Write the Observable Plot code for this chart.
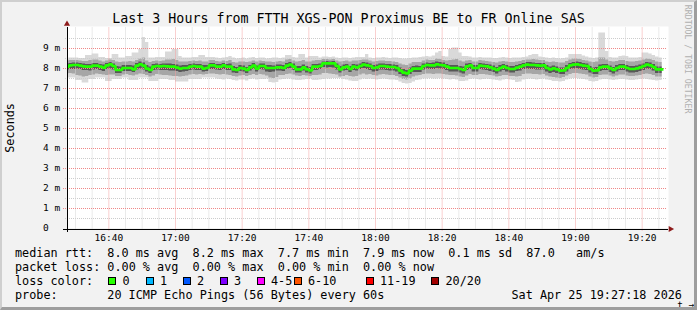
<!DOCTYPE html>
<html><head><meta charset="utf-8">
<script src="https://cdn.jsdelivr.net/npm/d3@7"></script>
<script src="https://cdn.jsdelivr.net/npm/@observablehq/plot@0.6"></script>
<style>
html,body{margin:0;padding:0;background:#f2f2f2;}
#wrap{position:relative;width:697px;height:310px;overflow:hidden;background:#f2f2f2;font-family:"DejaVu Sans Mono",monospace;color:#000;}
#wrap svg{position:absolute;left:0;top:0;}
.t{position:absolute;white-space:pre;line-height:1;}
.box{position:absolute;width:6px;height:6px;border:1px solid #000;}
#shade{position:absolute;left:0;top:0;width:697px;height:310px;box-sizing:border-box;border-top:2px solid #cfcfcf;border-left:2px solid #cfcfcf;border-right:3px solid #9e9e9e;border-bottom:3px solid #9e9e9e;pointer-events:none;}
</style></head>
<body><div id="wrap"></div>
<script>
// ---- data (milliseconds), one value per minute starting 16:27 ----
const firstMinute = 27; // minutes after 16:00
const median = [
8.05,8.13,8.15,8.15,8.12,8.08,8.07,8.07,8.12,8.12,8.07,8.02,8.13,8.18,8.1,7.9,7.9,8.0,8.0,8.0,7.93,8.12,8.18,8.12,7.97,7.9,8.07,8.1,8.08,8.1,8.08,8.07,8.07,8.02,7.97,8.0,8.0,8.07,8.1,8.07,8.07,7.97,8.0,8.13,8.13,
8.07,8.07,8.13,8.07,8.07,7.93,7.9,8.0,7.97,7.9,8.03,8.12,7.97,8.1,8.1,8.0,8.0,8.0,8.03,8.03,8.0,8.12,8.17,8.07,7.93,7.93,8.03,7.93,7.88,8.07,8.07,8.1,8.23,8.23,8.23,8.23,8.1,7.93,8.03,8.07,7.95,8.07,8.03,8.1,8.17,
8.13,8.1,8.0,8.03,8.1,8.1,8.07,8.05,8.05,8.0,7.87,7.77,7.73,7.87,7.97,7.97,7.97,8.1,8.15,8.13,8.13,8.18,8.15,8.13,8.07,8.0,8.0,8.0,7.95,7.9,8.08,8.13,8.0,8.0,8.12,8.1,8.08,8.03,7.97,7.9,8.0,8.07,8.0,7.95,7.95,
8.02,8.07,8.13,8.17,8.15,8.15,8.13,8.12,8.13,8.0,7.93,7.98,7.93,7.87,7.88,8.0,8.13,8.17,8.18,8.15,8.12,8.1,7.95,7.87,7.88,8.03,8.07,8.07,7.98,7.9,8.0,8.07,8.07,8.0,7.95,7.95,7.98,8.03,8.1,8.17,8.13,8.05,7.93,7.93];
const pingMax = [
8.42,8.5,8.5,8.5,8.47,8.47,8.63,8.63,8.7,8.7,8.53,8.53,8.47,8.47,8.67,8.67,8.5,8.5,8.58,8.58,8.75,8.75,8.92,9.53,9.28,8.5,8.5,8.53,8.53,8.53,8.8,8.8,8.92,8.92,8.58,8.5,8.5,8.5,8.53,8.53,8.63,8.63,8.53,8.53,8.53,
8.5,8.47,8.5,8.53,8.58,8.5,8.45,8.47,8.5,8.45,8.5,8.53,8.47,8.5,8.5,8.45,8.47,8.5,8.5,8.47,8.5,8.63,8.63,8.53,8.5,8.67,8.67,8.5,8.58,8.58,8.58,8.5,8.55,8.55,8.53,8.55,8.5,8.47,8.5,8.5,8.47,8.5,8.53,8.53,8.53,
8.67,8.5,8.47,8.5,8.5,8.53,8.5,8.47,8.5,8.5,8.47,8.45,8.45,8.47,8.5,8.5,8.53,8.55,8.58,8.55,8.6,8.75,8.83,8.58,8.55,8.92,9.0,9.0,8.75,8.58,8.58,8.55,8.5,8.5,8.53,8.5,8.5,8.5,8.47,8.47,8.5,8.53,8.5,8.47,8.5,
8.5,8.5,8.53,8.55,8.63,8.67,8.67,8.55,8.53,8.5,8.47,8.5,8.47,8.45,8.47,8.5,8.67,8.67,8.67,8.67,8.6,8.55,8.5,8.47,8.5,9.75,9.75,8.83,8.53,8.5,8.5,8.58,8.6,8.58,8.5,8.5,8.5,8.53,8.75,8.75,8.7,8.63,8.55,8.5];
const pingMin = [
7.5,7.5,7.5,7.37,7.37,7.25,7.25,7.42,7.42,7.5,7.5,7.5,7.33,7.33,7.42,7.42,7.42,7.5,7.5,7.37,7.37,7.37,7.5,7.5,7.5,7.33,7.33,7.33,7.42,7.42,7.42,7.37,7.37,7.3,7.3,7.3,7.3,7.42,7.42,7.42,7.42,7.5,7.5,7.5,7.5,
7.45,7.42,7.4,7.45,7.42,7.37,7.35,7.4,7.4,7.35,7.42,7.45,7.4,7.42,7.42,7.45,7.28,7.25,7.28,7.4,7.42,7.45,7.45,7.4,7.37,7.37,7.4,7.42,7.45,7.37,7.37,7.4,7.42,7.45,7.45,7.47,7.47,7.47,7.42,7.4,7.35,7.33,7.33,7.4,7.45,
7.42,7.45,7.42,7.4,7.42,7.45,7.42,7.4,7.4,7.37,7.3,7.22,7.2,7.22,7.3,7.37,7.4,7.45,7.45,7.47,7.45,7.45,7.47,7.45,7.42,7.4,7.42,7.4,7.33,7.33,7.35,7.42,7.45,7.42,7.4,7.42,7.45,7.42,7.4,7.37,7.35,7.4,7.42,7.4,7.37,
7.28,7.3,7.4,7.42,7.45,7.42,7.4,7.42,7.45,7.4,7.37,7.33,7.33,7.3,7.33,7.4,7.45,7.47,7.47,7.45,7.42,7.4,7.33,7.3,7.33,7.4,7.42,7.42,7.4,7.37,7.4,7.42,7.42,7.4,7.37,7.37,7.4,7.42,7.45,7.42,7.4,7.37,7.35,7.37];
const innerHi = [
8.33,8.37,8.38,8.37,8.35,8.33,8.33,8.37,8.4,8.4,8.35,8.3,8.35,8.4,8.37,8.3,8.27,8.3,8.3,8.32,8.3,8.37,8.45,8.5,8.35,8.27,8.33,8.35,8.33,8.35,8.4,8.4,8.42,8.37,8.3,8.3,8.3,8.33,8.35,8.33,8.35,8.3,8.3,8.37,8.37,
8.33,8.3,8.35,8.33,8.37,8.28,8.25,8.3,8.3,8.27,8.3,8.35,8.3,8.35,8.33,8.3,8.3,8.28,8.3,8.32,8.3,8.4,8.42,8.35,8.3,8.33,8.37,8.3,8.3,8.35,8.37,8.37,8.42,8.42,8.4,8.42,8.35,8.3,8.33,8.35,8.3,8.35,8.35,8.37,8.4,
8.4,8.35,8.3,8.33,8.35,8.35,8.33,8.33,8.3,8.28,8.2,8.15,8.12,8.2,8.27,8.28,8.27,8.35,8.4,8.38,8.38,8.45,8.42,8.38,8.35,8.37,8.4,8.42,8.35,8.3,8.35,8.38,8.3,8.3,8.37,8.35,8.33,8.3,8.28,8.25,8.3,8.33,8.3,8.28,8.28,
8.3,8.33,8.37,8.4,8.4,8.42,8.4,8.37,8.37,8.3,8.27,8.3,8.27,8.25,8.25,8.33,8.4,8.45,8.45,8.42,8.38,8.35,8.3,8.27,8.3,8.5,8.5,8.4,8.33,8.3,8.33,8.37,8.38,8.33,8.3,8.3,8.33,8.35,8.4,8.45,8.42,8.37,8.3,8.28];
const innerLo = [
7.7,7.72,7.7,7.62,7.6,7.55,7.57,7.63,7.65,7.7,7.68,7.65,7.62,7.65,7.65,7.58,7.58,7.65,7.68,7.63,7.6,7.65,7.7,7.68,7.63,7.55,7.6,7.67,7.65,7.63,7.63,7.6,7.58,7.57,7.55,7.57,7.6,7.65,7.67,7.65,7.67,7.65,7.67,7.7,7.7,
7.67,7.65,7.67,7.65,7.63,7.58,7.55,7.6,7.62,7.57,7.63,7.67,7.62,7.67,7.65,7.6,7.5,7.48,7.52,7.62,7.63,7.67,7.7,7.65,7.6,7.58,7.63,7.6,7.57,7.62,7.62,7.65,7.72,7.72,7.7,7.68,7.65,7.55,7.58,7.63,7.57,7.55,7.57,7.65,7.7,
7.65,7.67,7.62,7.6,7.65,7.67,7.65,7.63,7.62,7.58,7.5,7.42,7.4,7.45,7.55,7.6,7.63,7.67,7.7,7.7,7.68,7.7,7.7,7.68,7.65,7.62,7.62,7.6,7.55,7.52,7.6,7.67,7.63,7.62,7.67,7.67,7.65,7.62,7.6,7.55,7.58,7.63,7.62,7.58,7.57,
7.55,7.58,7.67,7.7,7.7,7.68,7.67,7.65,7.67,7.6,7.55,7.52,7.5,7.48,7.52,7.6,7.68,7.72,7.72,7.7,7.67,7.65,7.55,7.5,7.52,7.62,7.65,7.65,7.6,7.55,7.6,7.65,7.65,7.6,7.57,7.57,7.6,7.63,7.67,7.7,7.68,7.63,7.55,7.55];
const coreHi = [
8.17,8.22,8.25,8.25,8.22,8.2,8.18,8.17,8.22,8.23,8.18,8.15,8.23,8.28,8.2,8.08,8.05,8.12,8.13,8.12,8.1,8.22,8.3,8.25,8.12,8.05,8.17,8.2,8.18,8.2,8.2,8.2,8.18,8.15,8.1,8.12,8.12,8.18,8.2,8.18,8.18,8.12,8.13,8.23,8.23,
8.18,8.17,8.22,8.18,8.2,8.07,8.03,8.12,8.1,8.03,8.13,8.22,8.1,8.2,8.2,8.12,8.12,8.1,8.15,8.15,8.12,8.22,8.27,8.2,8.07,8.07,8.15,8.07,8.02,8.18,8.18,8.2,8.3,8.32,8.3,8.32,8.2,8.07,8.15,8.17,8.08,8.18,8.15,8.2,8.27,
8.25,8.2,8.12,8.15,8.2,8.2,8.18,8.17,8.15,8.12,8.0,7.92,7.88,8.0,8.08,8.1,8.08,8.2,8.25,8.23,8.25,8.3,8.27,8.25,8.18,8.12,8.12,8.12,8.08,8.05,8.2,8.23,8.12,8.12,8.22,8.2,8.18,8.15,8.1,8.03,8.12,8.18,8.12,8.07,8.07,
8.13,8.18,8.23,8.27,8.27,8.25,8.23,8.22,8.23,8.12,8.05,8.1,8.05,8.0,8.0,8.12,8.23,8.28,8.3,8.27,8.23,8.2,8.08,8.0,8.02,8.15,8.18,8.18,8.1,8.03,8.12,8.18,8.18,8.12,8.07,8.07,8.1,8.15,8.2,8.27,8.25,8.17,8.05,8.05];
const coreLo = [
7.88,7.92,7.93,7.95,7.92,7.88,7.87,7.85,7.9,7.92,7.88,7.83,7.92,7.95,7.9,7.72,7.73,7.82,7.82,7.83,7.78,7.9,7.95,7.9,7.8,7.72,7.87,7.9,7.88,7.88,7.87,7.85,7.85,7.82,7.78,7.8,7.82,7.87,7.9,7.87,7.87,7.8,7.82,7.93,7.92,
7.9,7.88,7.93,7.88,7.87,7.75,7.72,7.82,7.8,7.73,7.85,7.92,7.8,7.92,7.9,7.8,7.78,7.8,7.85,7.85,7.82,7.92,7.97,7.87,7.75,7.75,7.85,7.75,7.7,7.88,7.88,7.92,8.02,8.0,8.02,8.0,7.9,7.75,7.85,7.88,7.77,7.88,7.85,7.92,7.97,
7.92,7.88,7.8,7.83,7.9,7.9,7.87,7.85,7.85,7.8,7.68,7.58,7.55,7.67,7.77,7.78,7.78,7.9,7.95,7.93,7.92,7.97,7.95,7.92,7.87,7.8,7.8,7.8,7.75,7.7,7.88,7.92,7.8,7.8,7.92,7.9,7.88,7.83,7.77,7.7,7.8,7.87,7.8,7.75,7.75,
7.82,7.85,7.92,7.95,7.93,7.93,7.9,7.9,7.9,7.8,7.73,7.78,7.73,7.67,7.68,7.8,7.92,7.95,7.97,7.93,7.9,7.88,7.75,7.67,7.68,7.83,7.87,7.87,7.78,7.7,7.8,7.87,7.87,7.8,7.75,7.75,7.78,7.83,7.88,7.95,7.92,7.85,7.73,7.73];

const xTickValues = [40, 60, 80, 100, 120, 140, 160, 180, 200];
const xTickLabels = ["16:40","17:00","17:20","17:40","18:00","18:20","18:40","19:00","19:20"];
const yTickValues = [0,1,2,3,4,5,6,7,8,9];
const yTickLabels = ["0","1 m","2 m","3 m","4 m","5 m","6 m","7 m","8 m","9 m"];
const xDomain = [27.6, 207.6];
const yDomain = [0, 10];

const titleText = "Last 3 Hours from FTTH XGS-PON Proximus BE to FR Online SAS";
const legendLine1 = "median rtt:  8.0 ms avg  8.2 ms max  7.7 ms min  7.9 ms now  0.1 ms sd  87.0   am/s";
const legendLine2 = "packet loss: 0.00 % avg  0.00 % max  0.00 % min  0.00 % now";
const lossLabels = ["0","1","2","3","4-5","6-10","11-19","20/20"];
const lossColors = ["#26ff00","#00b8ff","#0059ff","#7e00ff","#ff00ff","#ff5500","#ff0000","#a10000"];
const probeText = "20 ICMP Echo Pings (56 Bytes) every 60s";
const dateText = "Sat Apr 25 19:27:18 2026";

// ---- table for the library ----
const rows = median.map((m, i) => ({
  t: firstMinute + i, med: m, mn: pingMin[i], mx: pingMax[i],
  lo: innerLo[i], hi: innerHi[i], cl: coreLo[i], ch: coreHi[i]
}));
rows.push({...rows[rows.length - 1], t: firstMinute + median.length});

const xMinor = d3.range(30, 206, 5).filter(v => v % 20 !== 0);
const yMinor = d3.range(0.5, 10, 1);
const yMajor = yTickValues.filter(v => v > 0);
const xLab = new Map(xTickValues.map((v, i) => [v, xTickLabels[i]]));
const yLab = new Map(yTickValues.map((v, i) => [v, yTickLabels[i]]));

const chart = Plot.plot({
  width: 697, height: 310,
  marginLeft: 67, marginRight: 30, marginTop: 27.5, marginBottom: 82.5,
  style: {background: "transparent", fontFamily: "DejaVu Sans Mono", fontSize: "9.5px", color: "#000"},
  x: {domain: xDomain, axis: null},
  y: {domain: yDomain, axis: null},
  marks: [
    Plot.frame({fill: "#ffffff", stroke: "none", insetTop: -1.5, insetRight: -1}),
    Plot.areaY(rows, {x: "t", y1: "mn", y2: "mx", curve: "step-after", fill: "#d9d9d9", clip: true}),
    Plot.areaY(rows, {x: "t", y1: "lo", y2: "hi", curve: "step-after", fill: "#a6a6a6", clip: true}),
    Plot.areaY(rows, {x: "t", y1: "cl", y2: "ch", curve: "step-after", fill: "#575757", clip: true}),
    Plot.ruleY(yMinor, {stroke: "#cccccc", strokeDasharray: "1,1", insetLeft: -2, shapeRendering: "crispEdges"}),
    Plot.ruleX(xMinor, {stroke: "#d4d4d4", strokeDasharray: "1,1", insetBottom: -2}),
    Plot.ruleY(yMajor, {stroke: "#f08888", strokeDasharray: "1,1", insetLeft: -4, shapeRendering: "crispEdges"}),
    Plot.ruleX(xTickValues, {stroke: "#f4a0a0", strokeDasharray: "1,1", insetBottom: -3}),
    Plot.line(rows, {x: "t", y: "med", curve: "step-after", stroke: "#22ff00", strokeWidth: 2.6, strokeLinejoin: "miter", strokeLinecap: "square", clip: true}),
    Plot.ruleY([0], {stroke: "#000", insetLeft: -4, insetRight: -1, dy: 1, shapeRendering: "crispEdges"}),
    Plot.ruleX([xDomain[0]], {stroke: "#000", insetTop: -1, insetBottom: -4, dx: -0.5, shapeRendering: "crispEdges"}),
    Plot.dot([xDomain[0]], {x: d => d, y: () => yDomain[1], symbol: "triangle", r: 2.3, fill: "#8e1b1b", stroke: "none", dx: -0.5, dy: -4}),
    Plot.dot([xDomain[1]], {x: d => d, y: () => 0, symbol: "triangle", r: 2.3, fill: "#8e1b1b", stroke: "none", rotate: 90, dx: 3, dy: 1}),
    Plot.axisX(xTickValues, {tickSize: 0, tickPadding: 6.5, tickFormat: d => xLab.get(d), fontSize: 9.5, fill: "#000"}),
    Plot.axisY(yTickValues, {tickSize: 0, tickPadding: 0, textAnchor: "start", dx: -24.5, tickFormat: d => yLab.get(d), fontSize: 9.5, fill: "#000"})
  ]
});

const wrap = document.getElementById("wrap");
wrap.appendChild(chart);

function addText(txt, left, top, size, extra) {
  const d = document.createElement("div");
  d.className = "t";
  d.textContent = txt;
  d.style.left = left + "px";
  d.style.top = top + "px";
  d.style.fontSize = size + "px";
  if (extra) Object.assign(d.style, extra);
  wrap.appendChild(d);
  return d;
}
// title
addText(titleText, 0, 11.8, 13.3, {width: "697px", textAlign: "center", color: "#000"});
// y label
addText("Seconds", 10.5 - 30, 127.5 - 5.9, 11.8, {width: "60px", textAlign: "center", transform: "rotate(-90deg)", transformOrigin: "50% 50%"});
// watermark
addText("RRDTOOL / TOBI OETIKER", 687.5 - 56, 59 - 4.1, 8.2, {width: "112px", textAlign: "center", color: "#b0b0b0", transform: "rotate(90deg)", transformOrigin: "50% 50%"});
// legend
const lf = 11.8, lx = 15;
addText(legendLine1, lx, 247.5, lf);
addText(legendLine2, lx, 261.7, lf);
addText("loss color:", lx, 275.9, lf);
const boxX = [108, 145.5, 182.5, 219.5, 256.5, 293.5, 365.5, 431];
lossLabels.forEach((lab, i) => {
  const b = document.createElement("div");
  b.className = "box";
  b.style.left = boxX[i] + "px";
  b.style.top = "277px";
  b.style.background = lossColors[i];
  wrap.appendChild(b);
  addText(lab, boxX[i] + 14.5, 275.9, lf);
});
addText("probe:", lx, 290, lf);
addText(probeText, lx + 13 * 7.1, 290, lf);
addText(dateText, 511.5, 290, lf);
const sh = document.createElement("div");
sh.id = "shade";
wrap.appendChild(sh);
</script>
</body></html>
